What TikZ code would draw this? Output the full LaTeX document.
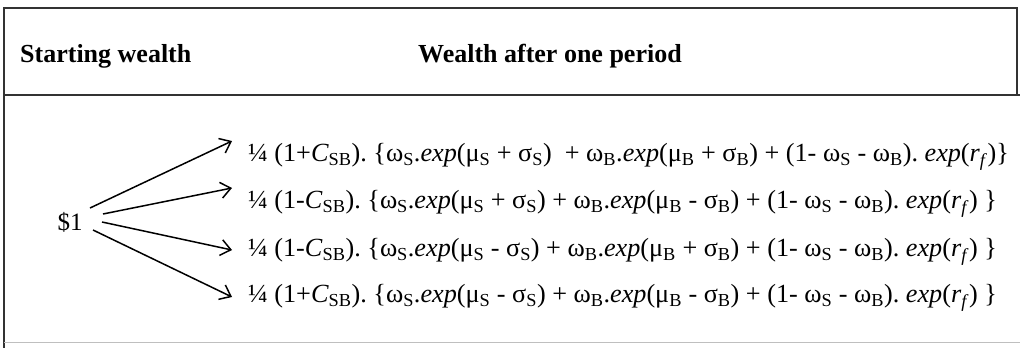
\documentclass[tikz,border=0pt]{standalone}
\usepackage{fontspec}
\setmainfont{Liberation Serif}
\usetikzlibrary{arrows.meta}
\frenchspacing
\newcommand\sbx[1]{\textsubscript{#1}}
\tikzset{
  frame/.style={line width=1.2pt, draw=black!80},
  head/.style={anchor=west, font=\fontsize{26}{29}\selectfont\bfseries, inner sep=0pt},
  row/.style={anchor=west, font=\fontsize{26.2}{29}\selectfont, inner sep=0pt},
  conn/.style={line width=1.5pt, -{Straight Barb[length=10pt,width=16pt,line width=1.5pt]}}
}
\begin{document}
\begin{tikzpicture}[x=1pt,y=-1pt]
\useasboundingbox (0,0) rectangle (1020,348);
\fill[white] (0,0) rectangle (1020,348);
% frame
\draw[frame] (4,348) -- (4,8) -- (1017,8) -- (1017,96);
\draw[frame] (4,95) -- (1020,95);
\draw[line width=0.8pt, draw=black!25] (4,342) -- (1020,342);
% header
\node[head] (h1) at (20,56) {Starting wealth};
\node[head] (h2) at (418,56) {Wealth after one period};
% start
\node[anchor=center, font=\fontsize{25}{28}\selectfont, inner sep=0pt] (s) at (70,222) {\$1};
\node[row] (r1) at (248,157) {¼ (1+\textit{C}\sbx{SB}). \{ω\sbx{S}.\textit{exp}(μ\sbx{S} + σ\sbx{S})\ \ + ω\sbx{B}.\textit{exp}(μ\sbx{B} + σ\sbx{B}) + (1- ω\sbx{S} - ω\sbx{B}). \textit{exp}(\textit{r}\sbx{\textit{f}})\}};
\node[row] (r2) at (248,204) {¼ (1-\textit{C}\sbx{SB}). \{ω\sbx{S}.\textit{exp}(μ\sbx{S} + σ\sbx{S}) + ω\sbx{B}.\textit{exp}(μ\sbx{B} - σ\sbx{B}) + (1- ω\sbx{S} - ω\sbx{B}). \textit{exp}(\textit{r}\sbx{\textit{f}}) \}};
\node[row] (r3) at (248,252) {¼ (1-\textit{C}\sbx{SB}). \{ω\sbx{S}.\textit{exp}(μ\sbx{S} - σ\sbx{S}) + ω\sbx{B}.\textit{exp}(μ\sbx{B} + σ\sbx{B}) + (1- ω\sbx{S} - ω\sbx{B}). \textit{exp}(\textit{r}\sbx{\textit{f}}) \}};
\node[row] (r4) at (248,298) {¼ (1+\textit{C}\sbx{SB}). \{ω\sbx{S}.\textit{exp}(μ\sbx{S} - σ\sbx{S}) + ω\sbx{B}.\textit{exp}(μ\sbx{B} - σ\sbx{B}) + (1- ω\sbx{S} - ω\sbx{B}). \textit{exp}(\textit{r}\sbx{\textit{f}}) \}};
% arrow ends
\coordinate (a1) at (90,208);  \coordinate (e1) at (232,141);
\coordinate (a2) at (103,214); \coordinate (e2) at (232,188);
\coordinate (a3) at (102,222); \coordinate (e3) at (232,250);
\coordinate (a4) at (93,230);  \coordinate (e4) at (232,297);
\draw[conn] (a1) -- (e1);
\draw[conn] (a2) -- (e2);
\draw[conn] (a3) -- (e3);
\draw[conn] (a4) -- (e4);
\end{tikzpicture}
\end{document}
